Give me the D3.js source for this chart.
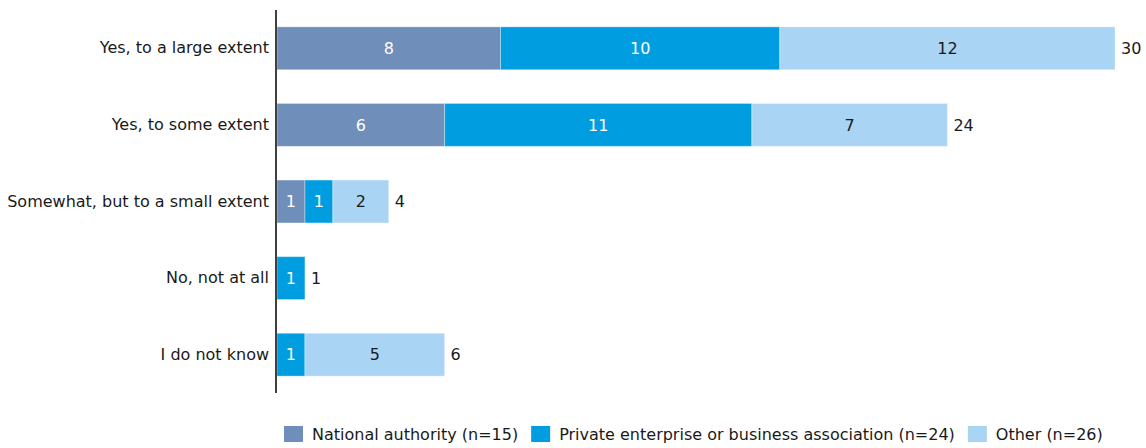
<!DOCTYPE html>
<html><head><meta charset="utf-8">
<script src="https://cdn.jsdelivr.net/npm/d3@7"></script>
<style>body{margin:0;background:#fff}svg{display:block}text{font-family:"DejaVu Sans",Verdana,sans-serif}</style>
</head><body><svg id="c" width="1146" height="448"></svg>
<script>
const categories = ["Yes, to a large extent","Yes, to some extent","Somewhat, but to a small extent","No, not at all","I do not know"];
const seriesNames = ["National authority (n=15)","Private enterprise or business association (n=24)","Other (n=26)"];
const national = [8,6,1,0,0];
const privateEnt = [10,11,1,1,1];
const other = [12,7,2,0,5];
const colors = ["#6f8eb9","#009ee0","#a9d4f4"];
const labelColors = ["#ffffff","#ffffff","#1a1a1a"];

const svg = d3.select("#c");
const fs = 16;
const x = d3.scaleLinear().domain([0,30]).range([277,1115]);
const y = d3.scaleBand().domain(categories).range([10,393]).paddingInner(0.44).paddingOuter(0.22);

const series = [national, privateEnt, other];
const data = categories.map((c,i)=>({cat:c, v:series.map(s=>s[i])}));
const stack = d3.stack().keys([0,1,2]).value((d,k)=>d.v[k]);
const stacked = stack(data);

stacked.forEach((layer,k)=>{
  const g = svg.append("g");
  layer.forEach((seg,i)=>{
    if(seg[1]-seg[0] <= 0) return;
    g.append("rect").attr("x",x(seg[0])).attr("y",y(categories[i]))
      .attr("width",x(seg[1])-x(seg[0])).attr("height",y.bandwidth())
      .attr("fill",colors[k]).attr("stroke","#ffffff").attr("stroke-opacity",0.35).attr("stroke-width",1);
    g.append("text").attr("x",(x(seg[0])+x(seg[1]))/2).attr("y",y(categories[i])+y.bandwidth()/2)
      .attr("dy","0.36em").attr("text-anchor","middle").attr("font-size",fs)
      .attr("fill",labelColors[k]).text(seg[1]-seg[0]);
  });
});

// totals
data.forEach((d,i)=>{
  const t = d3.sum(d.v);
  svg.append("text").attr("x",x(t)+6).attr("y",y(d.cat)+y.bandwidth()/2).attr("dy","0.36em")
    .attr("font-size",fs).attr("fill","#1a1a1a").text(t);
});

// y axis
const ya = svg.append("g").attr("transform","translate(276,0)").call(d3.axisLeft(y).tickSize(0).tickPadding(7));
ya.select(".domain").attr("d","M0,10V393").attr("stroke","#000").attr("stroke-width",1.5);
ya.selectAll("text").attr("font-size",fs).attr("fill","#1a1a1a").style("font-family",'"DejaVu Sans",Verdana,sans-serif');

// legend
const lg = svg.append("g");
let lx = 284;
seriesNames.forEach((n,k)=>{
  lg.append("rect").attr("x",lx).attr("y",426).attr("width",19).attr("height",16).attr("fill",colors[k]);
  const t = lg.append("text").attr("x",lx+28).attr("y",434).attr("dy","0.36em").attr("font-size",fs).attr("fill","#1a1a1a").text(n);
  lx = lx + 28 + t.node().getComputedTextLength() + 13;
});
</script></body></html>
